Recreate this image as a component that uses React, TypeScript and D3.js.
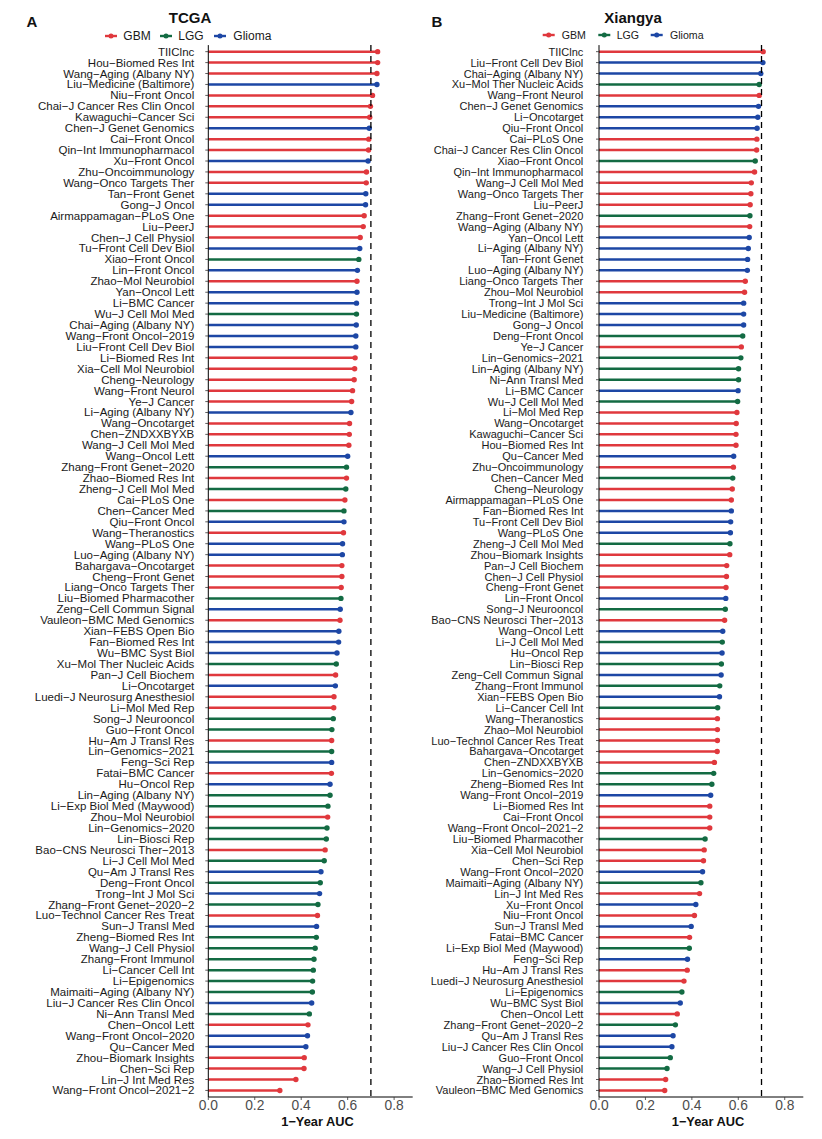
import React from "react";
import * as d3 from "d3";

// ---------- data ----------
const tcgaModels = [
  "TIIClnc", "Hou-Biomed Res Int", "Wang-Aging (Albany NY)", "Liu-Medicine (Baltimore)", "Niu-Front Oncol",
  "Chai-J Cancer Res Clin Oncol", "Kawaguchi-Cancer Sci", "Chen-J Genet Genomics", "Cai-Front Oncol", "Qin-Int Immunopharmacol",
  "Xu-Front Oncol", "Zhu-Oncoimmunology", "Wang-Onco Targets Ther", "Tan-Front Genet", "Gong-J Oncol",
  "Airmappamagan-PLoS One", "Liu-PeerJ", "Chen-J Cell Physiol", "Tu-Front Cell Dev Biol", "Xiao-Front Oncol",
  "Lin-Front Oncol", "Zhao-Mol Neurobiol", "Yan-Oncol Lett", "Li-BMC Cancer", "Wu-J Cell Mol Med",
  "Chai-Aging (Albany NY)", "Wang-Front Oncol-2019", "Liu-Front Cell Dev Biol", "Li-Biomed Res Int", "Xia-Cell Mol Neurobiol",
  "Cheng-Neurology", "Wang-Front Neurol", "Ye-J Cancer", "Li-Aging (Albany NY)", "Wang-Oncotarget",
  "Chen-ZNDXXBYXB", "Wang-J Cell Mol Med", "Wang-Oncol Lett", "Zhang-Front Genet-2020", "Zhao-Biomed Res Int",
  "Zheng-J Cell Mol Med", "Cai-PLoS One", "Chen-Cancer Med", "Qiu-Front Oncol", "Wang-Theranostics",
  "Wang-PLoS One", "Luo-Aging (Albany NY)", "Bahargava-Oncotarget", "Cheng-Front Genet", "Liang-Onco Targets Ther",
  "Liu-Biomed Pharmacother", "Zeng-Cell Commun Signal", "Vauleon-BMC Med Genomics", "Xian-FEBS Open Bio", "Fan-Biomed Res Int",
  "Wu-BMC Syst Biol", "Xu-Mol Ther Nucleic Acids", "Pan-J Cell Biochem", "Li-Oncotarget", "Luedi-J Neurosurg Anesthesiol",
  "Li-Mol Med Rep", "Song-J Neurooncol", "Guo-Front Oncol", "Hu-Am J Transl Res", "Lin-Genomics-2021",
  "Feng-Sci Rep", "Fatai-BMC Cancer", "Hu-Oncol Rep", "Lin-Aging (Albany NY)", "Li-Exp Biol Med (Maywood)",
  "Zhou-Mol Neurobiol", "Lin-Genomics-2020", "Lin-Biosci Rep", "Bao-CNS Neurosci Ther-2013", "Li-J Cell Mol Med",
  "Qu-Am J Transl Res", "Deng-Front Oncol", "Trong-Int J Mol Sci", "Zhang-Front Genet-2020-2", "Luo-Technol Cancer Res Treat",
  "Sun-J Transl Med", "Zheng-Biomed Res Int", "Wang-J Cell Physiol", "Zhang-Front Immunol", "Li-Cancer Cell Int",
  "Li-Epigenomics", "Maimaiti-Aging (Albany NY)", "Liu-J Cancer Res Clin Oncol", "Ni-Ann Transl Med", "Chen-Oncol Lett",
  "Wang-Front Oncol-2020", "Qu-Cancer Med", "Zhou-Biomark Insights", "Chen-Sci Rep", "Lin-J Int Med Res",
  "Wang-Front Oncol-2021-2",
];

const tcgaAUC = [
  0.729, 0.729, 0.726, 0.726, 0.707, 0.698, 0.695, 0.693, 0.691, 0.690,
  0.688, 0.681, 0.680, 0.678, 0.677, 0.671, 0.667, 0.654, 0.652, 0.648,
  0.642, 0.640, 0.640, 0.638, 0.638, 0.637, 0.635, 0.635, 0.632, 0.630,
  0.628, 0.621, 0.617, 0.614, 0.608, 0.607, 0.605, 0.600, 0.595, 0.595,
  0.592, 0.588, 0.584, 0.584, 0.582, 0.578, 0.577, 0.575, 0.575, 0.572,
  0.571, 0.568, 0.567, 0.562, 0.561, 0.554, 0.551, 0.548, 0.547, 0.541,
  0.540, 0.538, 0.532, 0.531, 0.531, 0.531, 0.530, 0.524, 0.524, 0.515,
  0.514, 0.511, 0.508, 0.503, 0.499, 0.485, 0.482, 0.479, 0.472, 0.470,
  0.466, 0.465, 0.460, 0.455, 0.452, 0.449, 0.448, 0.445, 0.435, 0.429,
  0.427, 0.420, 0.413, 0.412, 0.377, 0.308,
];

const xiangyaModels = [
  "TIIClnc", "Liu-Front Cell Dev Biol", "Chai-Aging (Albany NY)", "Xu-Mol Ther Nucleic Acids", "Wang-Front Neurol",
  "Chen-J Genet Genomics", "Li-Oncotarget", "Qiu-Front Oncol", "Cai-PLoS One", "Chai-J Cancer Res Clin Oncol",
  "Xiao-Front Oncol", "Qin-Int Immunopharmacol", "Wang-J Cell Mol Med", "Wang-Onco Targets Ther", "Liu-PeerJ",
  "Zhang-Front Genet-2020", "Wang-Aging (Albany NY)", "Yan-Oncol Lett", "Li-Aging (Albany NY)", "Tan-Front Genet",
  "Luo-Aging (Albany NY)", "Liang-Onco Targets Ther", "Zhou-Mol Neurobiol", "Trong-Int J Mol Sci", "Liu-Medicine (Baltimore)",
  "Gong-J Oncol", "Deng-Front Oncol", "Ye-J Cancer", "Lin-Genomics-2021", "Lin-Aging (Albany NY)",
  "Ni-Ann Transl Med", "Li-BMC Cancer", "Wu-J Cell Mol Med", "Li-Mol Med Rep", "Wang-Oncotarget",
  "Kawaguchi-Cancer Sci", "Hou-Biomed Res Int", "Qu-Cancer Med", "Zhu-Oncoimmunology", "Chen-Cancer Med",
  "Cheng-Neurology", "Airmappamagan-PLoS One", "Fan-Biomed Res Int", "Tu-Front Cell Dev Biol", "Wang-PLoS One",
  "Zheng-J Cell Mol Med", "Zhou-Biomark Insights", "Pan-J Cell Biochem", "Chen-J Cell Physiol", "Cheng-Front Genet",
  "Lin-Front Oncol", "Song-J Neurooncol", "Bao-CNS Neurosci Ther-2013", "Wang-Oncol Lett", "Li-J Cell Mol Med",
  "Hu-Oncol Rep", "Lin-Biosci Rep", "Zeng-Cell Commun Signal", "Zhang-Front Immunol", "Xian-FEBS Open Bio",
  "Li-Cancer Cell Int", "Wang-Theranostics", "Zhao-Mol Neurobiol", "Luo-Technol Cancer Res Treat", "Bahargava-Oncotarget",
  "Chen-ZNDXXBYXB", "Lin-Genomics-2020", "Zheng-Biomed Res Int", "Wang-Front Oncol-2019", "Li-Biomed Res Int",
  "Cai-Front Oncol", "Wang-Front Oncol-2021-2", "Liu-Biomed Pharmacother", "Xia-Cell Mol Neurobiol", "Chen-Sci Rep",
  "Wang-Front Oncol-2020", "Maimaiti-Aging (Albany NY)", "Lin-J Int Med Res", "Xu-Front Oncol", "Niu-Front Oncol",
  "Sun-J Transl Med", "Fatai-BMC Cancer", "Li-Exp Biol Med (Maywood)", "Feng-Sci Rep", "Hu-Am J Transl Res",
  "Luedi-J Neurosurg Anesthesiol", "Li-Epigenomics", "Wu-BMC Syst Biol", "Chen-Oncol Lett", "Zhang-Front Genet-2020-2",
  "Qu-Am J Transl Res", "Liu-J Cancer Res Clin Oncol", "Guo-Front Oncol", "Wang-J Cell Physiol", "Zhao-Biomed Res Int",
  "Vauleon-BMC Med Genomics",
];

const xiangyaAUC = [
  0.707, 0.706, 0.697, 0.690, 0.690, 0.687, 0.684, 0.681, 0.680, 0.679,
  0.673, 0.670, 0.656, 0.654, 0.651, 0.650, 0.649, 0.647, 0.643, 0.640,
  0.639, 0.630, 0.627, 0.623, 0.623, 0.623, 0.619, 0.613, 0.611, 0.601,
  0.601, 0.599, 0.597, 0.594, 0.591, 0.590, 0.590, 0.580, 0.579, 0.576,
  0.574, 0.570, 0.570, 0.567, 0.566, 0.564, 0.563, 0.550, 0.549, 0.547,
  0.546, 0.544, 0.541, 0.533, 0.531, 0.530, 0.527, 0.526, 0.520, 0.519,
  0.511, 0.510, 0.510, 0.510, 0.509, 0.497, 0.494, 0.486, 0.481, 0.477,
  0.477, 0.477, 0.457, 0.453, 0.450, 0.446, 0.439, 0.433, 0.417, 0.411,
  0.397, 0.390, 0.389, 0.381, 0.380, 0.366, 0.357, 0.350, 0.337, 0.329,
  0.319, 0.314, 0.307, 0.293, 0.287, 0.283,
];

// model -> cancer type (models not listed are GBM)
const lggModels = [
  "Xiao-Front Oncol", "Wu-J Cell Mol Med", "Zhang-Front Genet-2020", "Zheng-J Cell Mol Med", "Chen-Cancer Med",
  "Liu-Biomed Pharmacother", "Xu-Mol Ther Nucleic Acids", "Song-J Neurooncol", "Guo-Front Oncol", "Lin-Genomics-2021",
  "Lin-Aging (Albany NY)", "Li-Exp Biol Med (Maywood)", "Lin-Genomics-2020", "Lin-Biosci Rep", "Li-J Cell Mol Med",
  "Deng-Front Oncol", "Zhang-Front Genet-2020-2", "Zheng-Biomed Res Int", "Wang-J Cell Physiol", "Zhang-Front Immunol",
  "Li-Cancer Cell Int", "Li-Epigenomics", "Maimaiti-Aging (Albany NY)", "Ni-Ann Transl Med",
];
const gliomaModels = [
  "Liu-Medicine (Baltimore)", "Chen-J Genet Genomics", "Xu-Front Oncol", "Tan-Front Genet", "Gong-J Oncol",
  "Tu-Front Cell Dev Biol", "Lin-Front Oncol", "Yan-Oncol Lett", "Li-BMC Cancer", "Chai-Aging (Albany NY)",
  "Wang-Front Oncol-2019", "Liu-Front Cell Dev Biol", "Li-Aging (Albany NY)", "Wang-Oncol Lett", "Qiu-Front Oncol",
  "Wang-PLoS One", "Luo-Aging (Albany NY)", "Zeng-Cell Commun Signal", "Xian-FEBS Open Bio", "Fan-Biomed Res Int",
  "Wu-BMC Syst Biol", "Li-Oncotarget", "Feng-Sci Rep", "Hu-Oncol Rep", "Qu-Am J Transl Res",
  "Trong-Int J Mol Sci", "Sun-J Transl Med", "Liu-J Cancer Res Clin Oncol", "Wang-Front Oncol-2020", "Qu-Cancer Med",
];

const legendTypes = ["GBM", "LGG", "Glioma"];
const typeColors = ["#E0383D", "#136B43", "#1D47A5"];
const xTicks = [0, 0.2, 0.4, 0.6, 0.8];
const cutoffAUC = 0.7;
const xDomainMax = 0.88;
const axisTitle = "1-Year AUC";

const typeOf = (m: string) =>
  lggModels.includes(m) ? "LGG" : gliomaModels.includes(m) ? "Glioma" : "GBM";

const color = d3.scaleOrdinal<string, string>().domain(legendTypes).range(typeColors);

const FONT = "'Liberation Sans', Arial, Helvetica, sans-serif";
const dash = (s: string) => s.replace(/-/g, "\u2212");

// ---------- layout ----------
const PLOT_TOP = 45.1;
const PLOT_BOTTOM = 1097;

type PanelCfg = {
  letter: string;
  letterX: number;
  title: string;
  titleX: number;
  x0: number;
  x1: number;
  labelGap: number;
  labelSize: number;
  legendSize: number;
  legendY: number;
  legendMarkX: number[];
  legendTextX: number[];
  axisTitleX: number;
};

const panels: { cfg: PanelCfg; models: string[]; auc: number[] }[] = [
  {
    cfg: {
      letter: "A", letterX: 26.5, title: "TCGA", titleX: 190,
      x0: 208.3, x1: 412.7, labelGap: 14, labelSize: 11.5,
      legendSize: 12, legendY: 36,
      legendMarkX: [105, 160, 214], legendTextX: [123.3, 178.3, 233.3],
      axisTitleX: 317.5,
    },
    models: tcgaModels,
    auc: tcgaAUC,
  },
  {
    cfg: {
      letter: "B", letterX: 431.5, title: "Xiangya", titleX: 633,
      x0: 599, x1: 803.3, labelGap: 15.7, labelSize: 11,
      legendSize: 10.6, legendY: 35,
      legendMarkX: [542.7, 598.3, 650.7], legendTextX: [561.7, 616.7, 670],
      axisTitleX: 708,
    },
    models: xiangyaModels,
    auc: xiangyaAUC,
  },
];

function Panel({ cfg, models, auc }: { cfg: PanelCfg; models: string[]; auc: number[] }) {
  const x = d3.scaleLinear().domain([0, xDomainMax]).range([cfg.x0, cfg.x1]);
  const y = d3.scalePoint<string>().domain(models).range([PLOT_TOP, PLOT_BOTTOM]).padding(0.6);
  const rows = models.map((m, i) => ({ m, v: auc[i], t: typeOf(m) }));

  return (
    <g>
      <text x={cfg.letterX} y={26.7} fontFamily={FONT} fontWeight="bold" fontSize={15} fill="#111">
        {cfg.letter}
      </text>
      <text x={cfg.titleX} y={23.3} textAnchor="middle" fontFamily={FONT} fontWeight="bold" fontSize={15} fill="#111">
        {cfg.title}
      </text>
      {legendTypes.map((t, i) => (
        <g key={t}>
          <line x1={cfg.legendMarkX[i]} x2={cfg.legendMarkX[i] + 12} y1={cfg.legendY} y2={cfg.legendY}
            stroke={color(t)} strokeWidth={2.4} />
          <circle cx={cfg.legendMarkX[i] + 6} cy={cfg.legendY} r={2.5} fill={color(t)} />
          <text x={cfg.legendTextX[i]} y={cfg.legendY} dominantBaseline="central" fontFamily={FONT}
            fontSize={cfg.legendSize} fill="#1a1a1a">
            {t}
          </text>
        </g>
      ))}

      {rows.map((r) => (
        <g key={r.m}>
          <line x1={x(0)} x2={x(r.v)} y1={y(r.m)} y2={y(r.m)} stroke={color(r.t)} strokeWidth={2.5} />
          <circle cx={x(r.v)} cy={y(r.m)} r={2.7} fill={color(r.t)} />
        </g>
      ))}

      <line x1={x(cutoffAUC)} x2={x(cutoffAUC)} y1={PLOT_TOP} y2={PLOT_BOTTOM} stroke="#000"
        strokeWidth={1.3} strokeDasharray="6,5" />

      {/* y axis */}
      <line x1={cfg.x0} x2={cfg.x0} y1={PLOT_TOP} y2={PLOT_BOTTOM} stroke="#000" strokeWidth={1} />
      {rows.map((r) => (
        <g key={"t" + r.m}>
          <line x1={cfg.x0 - 3} x2={cfg.x0} y1={y(r.m)} y2={y(r.m)} stroke="#333" strokeWidth={0.8} />
          <text x={cfg.x0 - cfg.labelGap} y={y(r.m)} textAnchor="end" dominantBaseline="central"
            fontFamily={FONT} fontSize={cfg.labelSize} fill="#1a1a1a">
            {dash(r.m)}
          </text>
        </g>
      ))}

      {/* x axis */}
      <line x1={cfg.x0} x2={cfg.x1} y1={PLOT_BOTTOM} y2={PLOT_BOTTOM} stroke="#000" strokeWidth={1} />
      {xTicks.map((t) => (
        <g key={"x" + t}>
          <line x1={x(t)} x2={x(t)} y1={PLOT_BOTTOM} y2={PLOT_BOTTOM + 3} stroke="#333" strokeWidth={0.8} />
          <text x={x(t)} y={1110} textAnchor="middle" fontFamily={FONT} fontSize={13.8} fill="#4d4d4d">
            {d3.format(".1f")(t)}
          </text>
        </g>
      ))}
      <text x={cfg.axisTitleX} y={1125.7} textAnchor="middle" fontFamily={FONT} fontWeight="bold"
        fontSize={12.8} fill="#111">
        {dash(axisTitle)}
      </text>
    </g>
  );
}

export default function App() {
  return (
    <svg width={822} height={1139} viewBox="0 0 822 1139"
      style={{ position: "absolute", left: 0, top: 0, background: "#fff" }}>
      <rect x={0} y={0} width={822} height={1139} fill="#fff" />
      {panels.map((p) => (
        <Panel key={p.cfg.letter} cfg={p.cfg} models={p.models} auc={p.auc} />
      ))}
    </svg>
  );
}
